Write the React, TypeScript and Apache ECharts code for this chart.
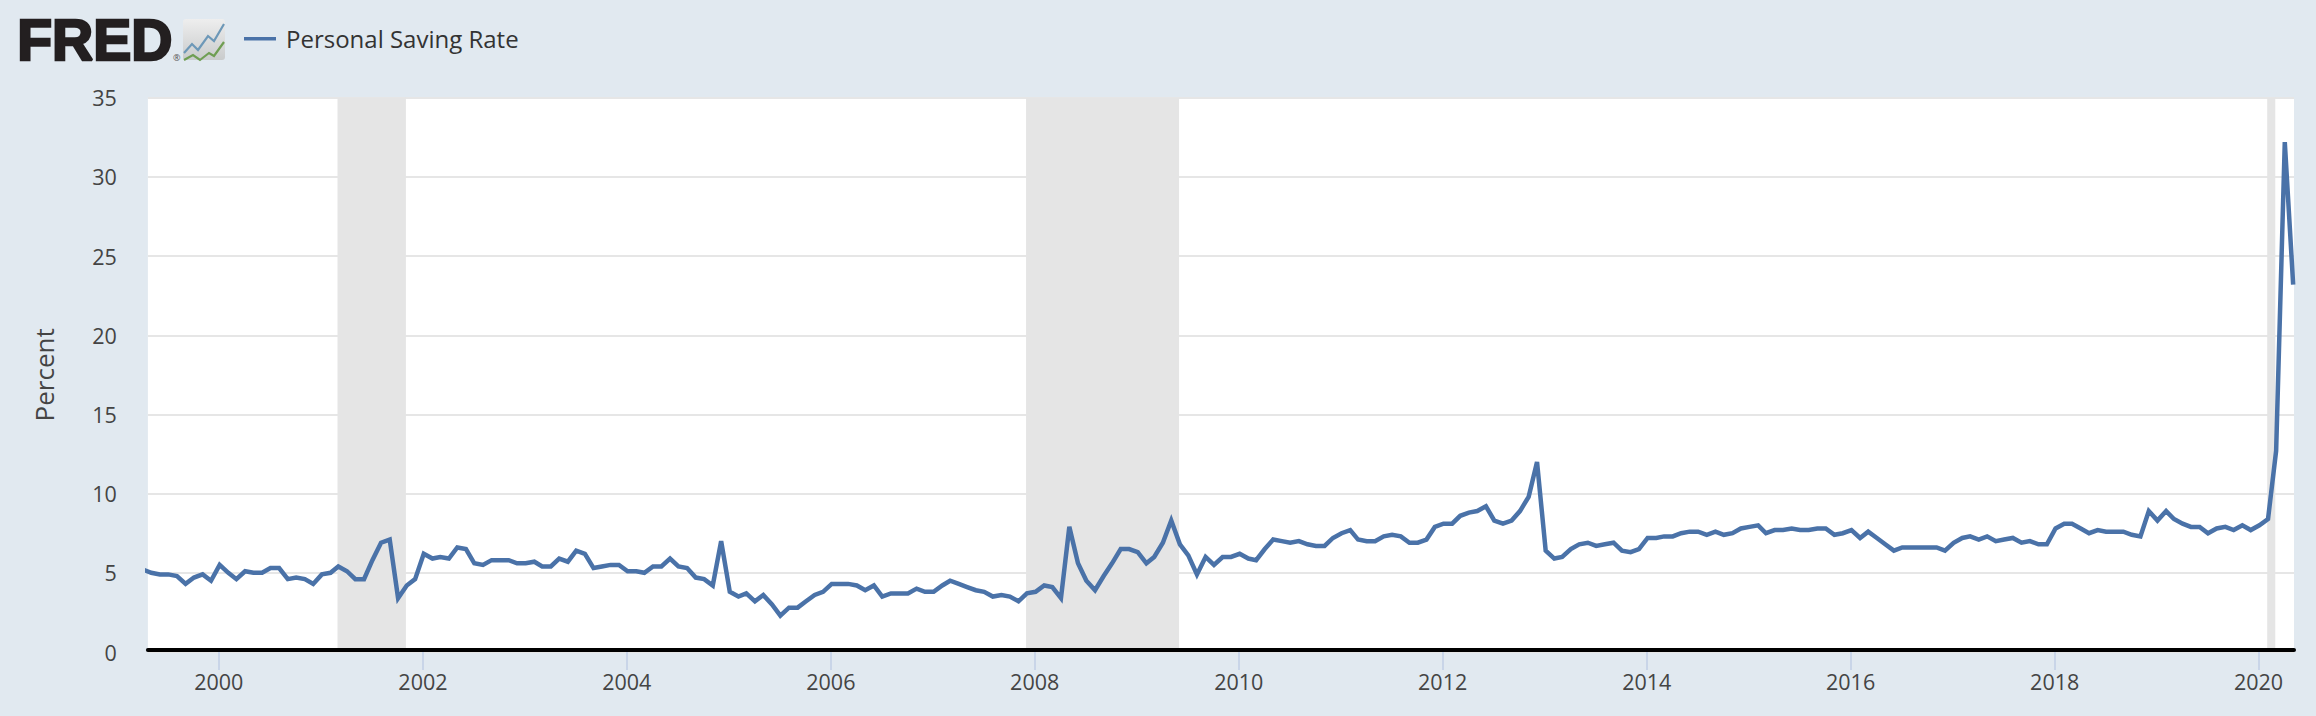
import React, { useEffect, useRef } from "react";
import * as echarts from "echarts";

const firstYear = 1999;
const firstMonthIndex = 3; // April 1999, just left of the plot edge
const savingRate = [
  5.2,
  5.0, 4.9, 4.9, 4.8, 4.3, 4.7, 4.9, 4.5,
  5.5, 5.0, 4.6, 5.1, 5.0, 5.0, 5.3, 5.3, 4.6, 4.7, 4.6, 4.3,
  4.9, 5.0, 5.4, 5.1, 4.6, 4.6, 5.8, 6.9, 7.1, 3.4, 4.2, 4.6,
  6.2, 5.9, 6.0, 5.9, 6.6, 6.5, 5.6, 5.5, 5.8, 5.8, 5.8, 5.6,
  5.6, 5.7, 5.4, 5.4, 5.9, 5.7, 6.4, 6.2, 5.3, 5.4, 5.5, 5.5,
  5.1, 5.1, 5.0, 5.4, 5.4, 5.9, 5.4, 5.3, 4.7, 4.6, 4.2, 7.0,
  3.8, 3.5, 3.7, 3.2, 3.6, 3.0, 2.3, 2.8, 2.8, 3.2, 3.6, 3.8,
  4.3, 4.3, 4.3, 4.2, 3.9, 4.2, 3.5, 3.7, 3.7, 3.7, 4.0, 3.8,
  3.8, 4.2, 4.5, 4.3, 4.1, 3.9, 3.8, 3.5, 3.6, 3.5, 3.2, 3.7,
  3.8, 4.2, 4.1, 3.4, 7.9, 5.6, 4.5, 3.9, 4.8, 5.6, 6.5, 6.5,
  6.3, 5.6, 6.0, 6.9, 8.3, 6.8, 6.1, 4.9, 6.0, 5.5, 6.0, 6.0,
  6.2, 5.9, 5.8, 6.5, 7.1, 7.0, 6.9, 7.0, 6.8, 6.7, 6.7, 7.2,
  7.5, 7.7, 7.1, 7.0, 7.0, 7.3, 7.4, 7.3, 6.9, 6.9, 7.1, 7.9,
  8.1, 8.1, 8.6, 8.8, 8.9, 9.2, 8.3, 8.1, 8.3, 8.9, 9.8, 12.0,
  6.4, 5.9, 6.0, 6.5, 6.8, 6.9, 6.7, 6.8, 6.9, 6.4, 6.3, 6.5,
  7.2, 7.2, 7.3, 7.3, 7.5, 7.6, 7.6, 7.4, 7.6, 7.4, 7.5, 7.8,
  7.9, 8.0, 7.5, 7.7, 7.7, 7.8, 7.7, 7.7, 7.8, 7.8, 7.4, 7.5,
  7.7, 7.2, 7.6, 7.2, 6.8, 6.4, 6.6, 6.6, 6.6, 6.6, 6.6, 6.4,
  6.9, 7.2, 7.3, 7.1, 7.3, 7.0, 7.1, 7.2, 6.9, 7.0, 6.8, 6.8,
  7.8, 8.1, 8.1, 7.8, 7.5, 7.7, 7.6, 7.6, 7.6, 7.4, 7.3, 8.9,
  8.3, 8.9, 8.4, 8.1, 7.9, 7.9, 7.5, 7.8, 7.9, 7.7, 8.0, 7.7,
  8.0, 8.4, 12.7, 32.2, 23.2,
];
const recessions: [string, string][] = [
  ["2001-03-01", "2001-11-01"],
  ["2007-12-01", "2009-06-01"],
  ["2020-02-01", "2020-03-01"],
];
const tickYears = [2000, 2002, 2004, 2006, 2008, 2010, 2012, 2014, 2016, 2018, 2020];
const yTicks = { min: 0, max: 35, interval: 5 };
const seriesName = "Personal Saving Rate";
const axisMin = Date.UTC(1999, 3, 22);
const axisMax = Date.UTC(2020, 4, 7);

const seriesData = savingRate.map((v, i) => [Date.UTC(firstYear, firstMonthIndex + i, 4), v]);
const tickValues = tickYears.map((y) => Date.UTC(y, 0, 1));
const utc = (s: string) => {
  const [y, m, d] = s.split("-").map(Number);
  return Date.UTC(y, m - 1, d);
};

const FONT = '"Open Sans", "Noto Sans", sans-serif';

export default function App() {
  const ref = useRef<HTMLDivElement>(null);
  useEffect(() => {
    document.body.style.margin = "0";
    const chart = echarts.init(ref.current!, undefined, { renderer: "svg" });
    const baseX = {
      type: "value" as const,
      min: axisMin,
      max: axisMax,
      splitLine: { show: false },
      position: "bottom" as const,
    };
    chart.setOption({
      animation: false,
      backgroundColor: "#e1e9f0",
      grid: {
        left: 147.9,
        right: 22,
        top: 97.7,
        bottom: 64,
        show: true,
        backgroundColor: "#ffffff",
        borderWidth: 0,
      },
      xAxis: [
        {
          ...baseX,
          axisLine: { show: false },
          axisTick: { show: true, customValues: tickValues, length: 18, lineStyle: { color: "#c9d5e8", width: 2 } },
          axisLabel: {
            show: true,
            customValues: tickValues,
            formatter: (v: number) => String(new Date(v).getUTCFullYear()),
            margin: 18,
            fontFamily: FONT,
            fontSize: 21.5,
            color: "#444444",
            hideOverlap: false,
          },
        },
        {
          ...baseX,
          offset: -2,
          z: 10,
          axisLine: { show: true, onZero: false, lineStyle: { color: "#000000", width: 4 } },
          axisTick: { show: false },
          axisLabel: { show: false },
        },
      ],
      yAxis: {
        type: "value",
        min: yTicks.min,
        max: yTicks.max,
        interval: yTicks.interval,
        name: "Percent",
        nameLocation: "middle",
        nameGap: 91,
        nameRotate: 90,
        nameTextStyle: { fontFamily: FONT, fontSize: 26, color: "#444444" },
        axisLine: { show: false },
        axisTick: { show: false },
        axisLabel: { margin: 31, fontFamily: FONT, fontSize: 21.5, color: "#444444" },
        splitLine: { lineStyle: { color: "#e6e6e6", width: 2 } },
      },
      series: [
        {
          name: seriesName,
          type: "line",
          xAxisIndex: 0,
          data: seriesData,
          showSymbol: false,
          clip: true,
          lineStyle: { color: "#4a72a8", width: 4.5, join: "miter" },
          itemStyle: { color: "#4a72a8" },
          markArea: {
            silent: true,
            itemStyle: { color: "#e5e5e5" },
            data: recessions.map(([a, b]) => [{ xAxis: utc(a) }, { xAxis: utc(b) }]),
          },
        },
      ],
      graphic: [
        {
          type: "text",
          left: 16,
          top: 10,
          style: {
            text: "FRED",
            fontFamily: '"Liberation Sans", sans-serif',
            fontWeight: "bold",
            fontSize: 57,
            fill: "#231f20",
            stroke: "#231f20",
            lineWidth: 2.5,
          },
        },
        {
          type: "text",
          left: 173,
          top: 53,
          style: { text: "®", fontFamily: FONT, fontSize: 9, fill: "#555555" },
        },
        {
          type: "rect",
          shape: { x: 183, y: 19, width: 42, height: 41, r: 3 },
          style: {
            fill: new echarts.graphic.LinearGradient(0, 0, 0, 1, [
              { offset: 0, color: "#eeeeee" },
              { offset: 1, color: "#c9cbcc" },
            ]),
          },
        },
        {
          type: "polyline",
          shape: { points: [[184, 53], [192, 44], [198, 50], [208, 36], [214, 41], [224, 24]] },
          style: { stroke: "#6d98b8", lineWidth: 2.2, fill: "none" },
        },
        {
          type: "polyline",
          shape: { points: [[184, 60], [193, 55], [200, 60], [209, 53], [214, 56], [224, 42]] },
          style: { stroke: "#6f9e53", lineWidth: 2.2, fill: "none" },
        },
        {
          type: "rect",
          shape: { x: 244, y: 37, width: 32, height: 3.5 },
          style: { fill: "#4a72a8" },
        },
        {
          type: "text",
          left: 286,
          top: 26,
          style: { text: seriesName, fontFamily: FONT, fontSize: 24, fill: "#333333" },
        },
      ],
    });
    return () => chart.dispose();
  }, []);
  return <div ref={ref} style={{ position: "fixed", left: 0, top: 0, width: 2316, height: 716 }} />;
}
